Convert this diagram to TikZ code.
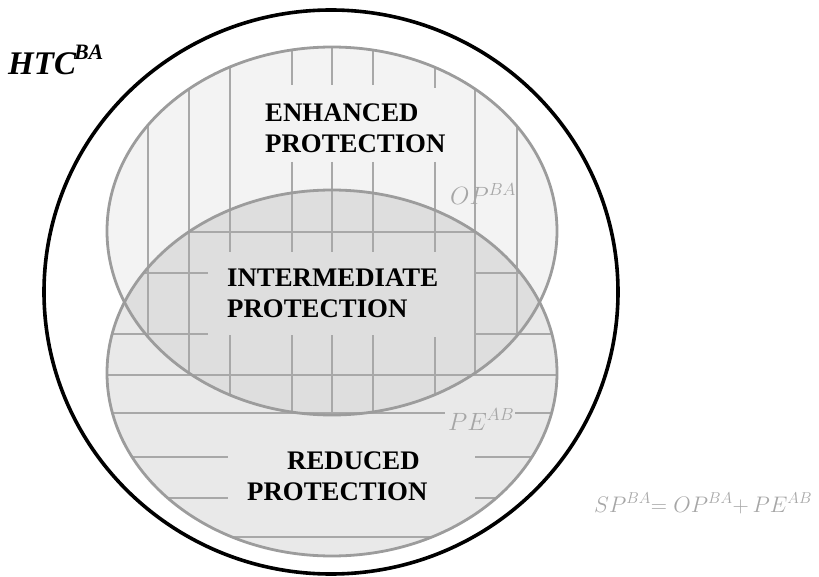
\RequirePackage{fix-cm}
\documentclass[tikz,border=0pt]{standalone}
\usepackage{fontspec}
\setmainfont{Liberation Serif}

\definecolor{rimgray}{HTML}{9C9C9C}
\definecolor{gridgray}{HTML}{A8A8A8}
\definecolor{labelgray}{HTML}{A6A6A6}
\definecolor{opfill}{HTML}{F3F3F3}
\definecolor{pefill}{HTML}{E9E9E9}
\definecolor{bothfill}{HTML}{DEDEDE}

\begin{document}
\begin{tikzpicture}[x=1pt,y=-1pt,line cap=butt,
    rim/.style={draw=rimgray,line width=2.8pt},
    gridline/.style={gridgray,line width=1.2pt},
    zonetext/.style={font=\bfseries\fontsize{26.8}{31}\selectfont,align=left,inner sep=0pt,anchor=base west},
    setlabel/.style={text=labelgray,font=\fontsize{25}{27}\selectfont,inner sep=0pt,anchor=base west}]
  \useasboundingbox (0,0) rectangle (819,577);

  % the two sets
  \fill[opfill] (332,231) ellipse [x radius=225,y radius=184];
  \fill[pefill] (332,373) ellipse [x radius=225,y radius=183];
  \begin{scope}
    \clip (332,231) ellipse [x radius=225,y radius=184];
    \fill[bothfill] (332,373) ellipse [x radius=225,y radius=183];
  \end{scope}

  % vertical hatching of OP
  \begin{scope}
    \clip (332,231) ellipse [x radius=225,y radius=184];
    \foreach \x in {148,189,475,517}
      \draw[gridline] (\x,0) -- (\x,600);
    \draw[gridline] (230,0) -- (230,252) (230,335) -- (230,600);
    \foreach \x in {292,332,373}
      \draw[gridline] (\x,0) -- (\x,85) (\x,162) -- (\x,252) (\x,335) -- (\x,600);
    \draw[gridline] (435,0) -- (435,88) (435,162) -- (435,252) (435,337) -- (435,600);
  \end{scope}

  % horizontal hatching of PE
  \begin{scope}
    \clip (332,373) ellipse [x radius=225,y radius=183];
    \foreach \y in {232,375,537}
      \draw[gridline] (0,\y) -- (800,\y);
    \foreach \y/\a/\b in {273/208/475,334/208/475,413/445/515,457/228/475,498/228/475}
      \draw[gridline] (0,\y) -- (\a,\y) (\b,\y) -- (800,\y);
  \end{scope}

  \draw[rim] (332,231) ellipse [x radius=225,y radius=184];
  \draw[rim] (332,373) ellipse [x radius=225,y radius=183];
  \draw[line width=3.6pt] (331,292) ellipse [x radius=287,y radius=282];

  % labels (base = last line)
  \node[inner sep=0pt,anchor=base west,font=\bfseries\itshape\fontsize{33}{35}\selectfont] (htc) at (8,75)
    {HTC\kern-2pt\raisebox{15pt}{\fontsize{22}{22}\selectfont BA}};
  \node[zonetext] (enhanced) at (265,153) {ENHANCED\\PROTECTION};
  \node[zonetext] (intermediate) at (227,317) {INTERMEDIATE\\PROTECTION};
  \node[zonetext] (reduced) at (247,500) {\hspace*{40pt}REDUCED\\PROTECTION};
  \node[setlabel] (opba) at (450,205) {$OP^{BA}$};
  \node[setlabel] (peab) at (448,430) {$PE^{AB}$};
  \node[setlabel,font=\fontsize{22.5}{24}\selectfont] (spba) at (594,512)
    {$SP^{BA}\mathord{=}\;OP^{BA}\mathord{+}\,PE^{AB}$};
\end{tikzpicture}
\end{document}
